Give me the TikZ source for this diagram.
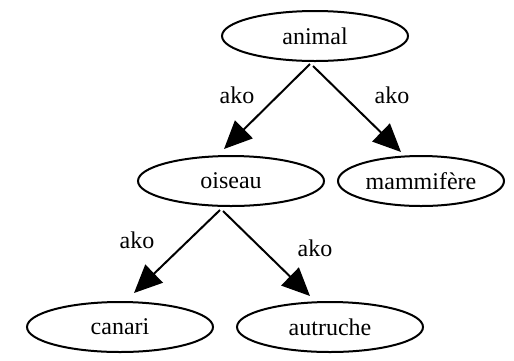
\documentclass[tikz,border=0pt]{standalone}
\usepackage{fontspec}
\setmainfont{Liberation Serif}
\usetikzlibrary{shapes.geometric,arrows.meta}
\begin{document}
\begin{tikzpicture}[x=1pt,y=-1pt,
  every node/.style={font=\fontsize{24}{28}\selectfont},
  concept/.style={ellipse,draw,line width=2pt,inner sep=0pt,minimum width=186pt,minimum height=50pt},
  edge/.style={line width=2pt,-{Triangle[length=28pt,width=25pt]}},
  lab/.style={inner sep=0pt}]
\useasboundingbox (0,0) rectangle (514,360);
% concept nodes
\node[concept] (animal) at (315,36) {animal};
\node[concept] (oiseau) at (231,181) {oiseau};
\node[concept,minimum width=166pt] (mammifere) at (421,181) {mammifère};
\node[concept] (canari) at (120,327) {canari};
\node[concept] (autruche) at (330,327) {autruche};
% ako links
\draw[edge] ([shift={(-5,28)}]animal.center) -- ([shift={(-7,-32)}]oiseau.center);
\draw[edge] ([shift={(-2,30)}]animal.center) -- ([shift={(-20,-29)}]mammifere.center);
\draw[edge] ([shift={(-11,29)}]oiseau.center) -- ([shift={(14,-34)}]canari.center);
\draw[edge] ([shift={(-8,30)}]oiseau.center) -- ([shift={(-20,-31)}]autruche.center);
% link labels
\node[lab] (l1) at (237,95) {ako};
\node[lab] (l2) at (392,95) {ako};
\node[lab] (l3) at (137,240) {ako};
\node[lab] (l4) at (315,248) {ako};
\end{tikzpicture}
\end{document}
